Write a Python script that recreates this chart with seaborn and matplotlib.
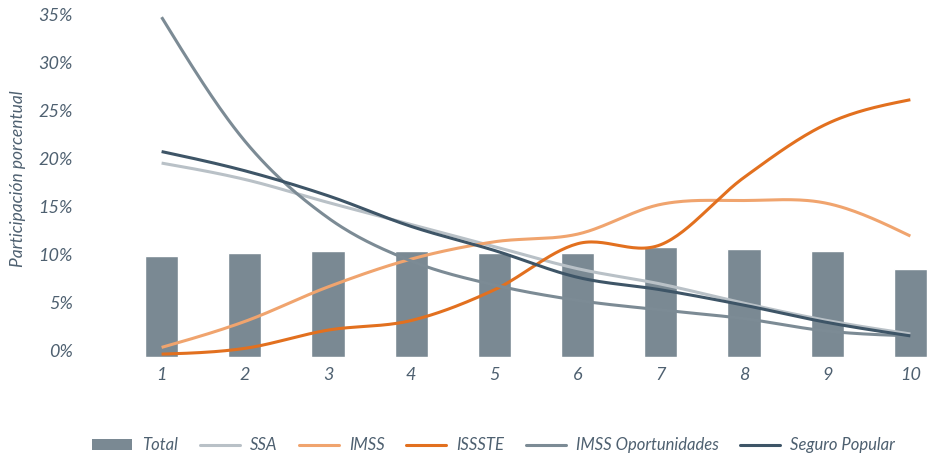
import numpy as np
import pandas as pd
import matplotlib
matplotlib.use("Agg")
import matplotlib.pyplot as plt
from matplotlib.patches import Patch
from matplotlib.lines import Line2D
from matplotlib.ticker import FuncFormatter
import seaborn as sns

# Data (deciles 1-10, % participation)
deciles = [1, 2, 3, 4, 5, 6, 7, 8, 9, 10]
total = [10.5, 10.8, 11.0, 11.0, 10.8, 10.8, 11.5, 11.2, 11.0, 9.2]
ssa = [20.2, 18.5, 16.1, 13.8, 11.5, 9.2, 7.6, 5.6, 3.8, 2.4]
imss = [1.0, 3.7, 7.3, 10.2, 12.0, 12.8, 15.9, 16.3, 16.0, 12.6]
issste = [0.3, 0.9, 2.8, 3.8, 7.0, 11.8, 11.7, 18.7, 24.3, 26.8]
imss_op = [35.4, 22.5, 14.5, 10.0, 7.5, 5.9, 4.9, 4.0, 2.7, 2.2]
seguro_popular = [21.4, 19.4, 16.8, 13.6, 11.1, 8.3, 7.0, 5.4, 3.6, 2.2]

series_names = ["SSA", "IMSS", "ISSSTE", "IMSS Oportunidades", "Seguro Popular"]
series_vals = [ssa, imss, issste, imss_op, seguro_popular]
series_colors = ["#b9c1c7", "#f0a46e", "#e2701f", "#7c8b95", "#3e5567"]

bar_color = "#7a8993"
text_color = "#4e6070"
FONT = ["Lato", "DejaVu Sans"]


def smooth(x, y, n=30):
    # Catmull-Rom style smoothing, like spreadsheet "smoothed line"
    x = np.asarray(x, float)
    y = np.asarray(y, float)
    m = np.zeros_like(y)
    m[1:-1] = (y[2:] - y[:-2]) / 2
    # natural end conditions
    m[0] = (3 * (y[1] - y[0]) - m[1]) / 2
    m[-1] = (3 * (y[-1] - y[-2]) - m[-2]) / 2
    xs, ys = [], []
    for i in range(len(x) - 1):
        t = np.linspace(0, 1, n, endpoint=False)
        h00 = 2 * t**3 - 3 * t**2 + 1
        h10 = t**3 - 2 * t**2 + t
        h01 = -2 * t**3 + 3 * t**2
        h11 = t**3 - t**2
        xs.append(x[i] + t * (x[i + 1] - x[i]))
        ys.append(h00 * y[i] + h10 * m[i] + h01 * y[i + 1] + h11 * m[i + 1])
    xs.append([x[-1]])
    ys.append([y[-1]])
    return np.concatenate(xs), np.concatenate(ys)


sns.set_theme(style="white")
plt.rcParams["font.family"] = FONT
plt.rcParams["font.style"] = "italic"

fig = plt.figure(figsize=(9.28, 4.59), dpi=100)
ax = fig.add_axes([120 / 928, 102 / 459, 807 / 928, 35.8 * 9.6 / 459])

df = pd.DataFrame({"decil": deciles, "total": total})
sns.barplot(data=df, x="decil", y="total", native_scale=True, width=0.4,
            color=bar_color, saturation=1, ax=ax)

for name, vals, col in zip(series_names, series_vals, series_colors):
    xs, ys = smooth(deciles, vals)
    ax.plot(xs, ys, color=col, lw=2.2, solid_capstyle="butt")

ax.set_xlim(0.5, 10.2)
ax.set_ylim(0, 35.8)
ax.set_yticks(range(0, 36, 5))
ax.set_xticks(deciles)
ax.yaxis.set_major_formatter(FuncFormatter(lambda v, p: f"{int(v)}%"))
ax.set_xlabel("")
ax.set_ylabel("")
for s in ax.spines.values():
    s.set_visible(False)
ax.tick_params(axis="both", length=0, colors=text_color, labelsize=13)
ax.tick_params(axis="y", pad=34)
ax.tick_params(axis="x", pad=7)
for lab in ax.get_yticklabels():
    lab.set_verticalalignment("baseline")

fig.text(0.019, 0.61, "Participación porcentual", rotation=90, ha="center",
         va="center", color=text_color, fontsize=12.5)

handles = [Patch(facecolor=bar_color, edgecolor="none")]
handles += [Line2D([], [], color=c, lw=2.2) for c in series_colors]
labels = ["Total"] + series_names
fig.legend(handles, labels, loc="center", bbox_to_anchor=(0.532, 0.03), ncol=6,
           frameon=False, fontsize=12, handlelength=2.4, handleheight=0.6,
           columnspacing=1.3, handletextpad=0.6, labelcolor=text_color)

fig.savefig("out.png", dpi=100)
